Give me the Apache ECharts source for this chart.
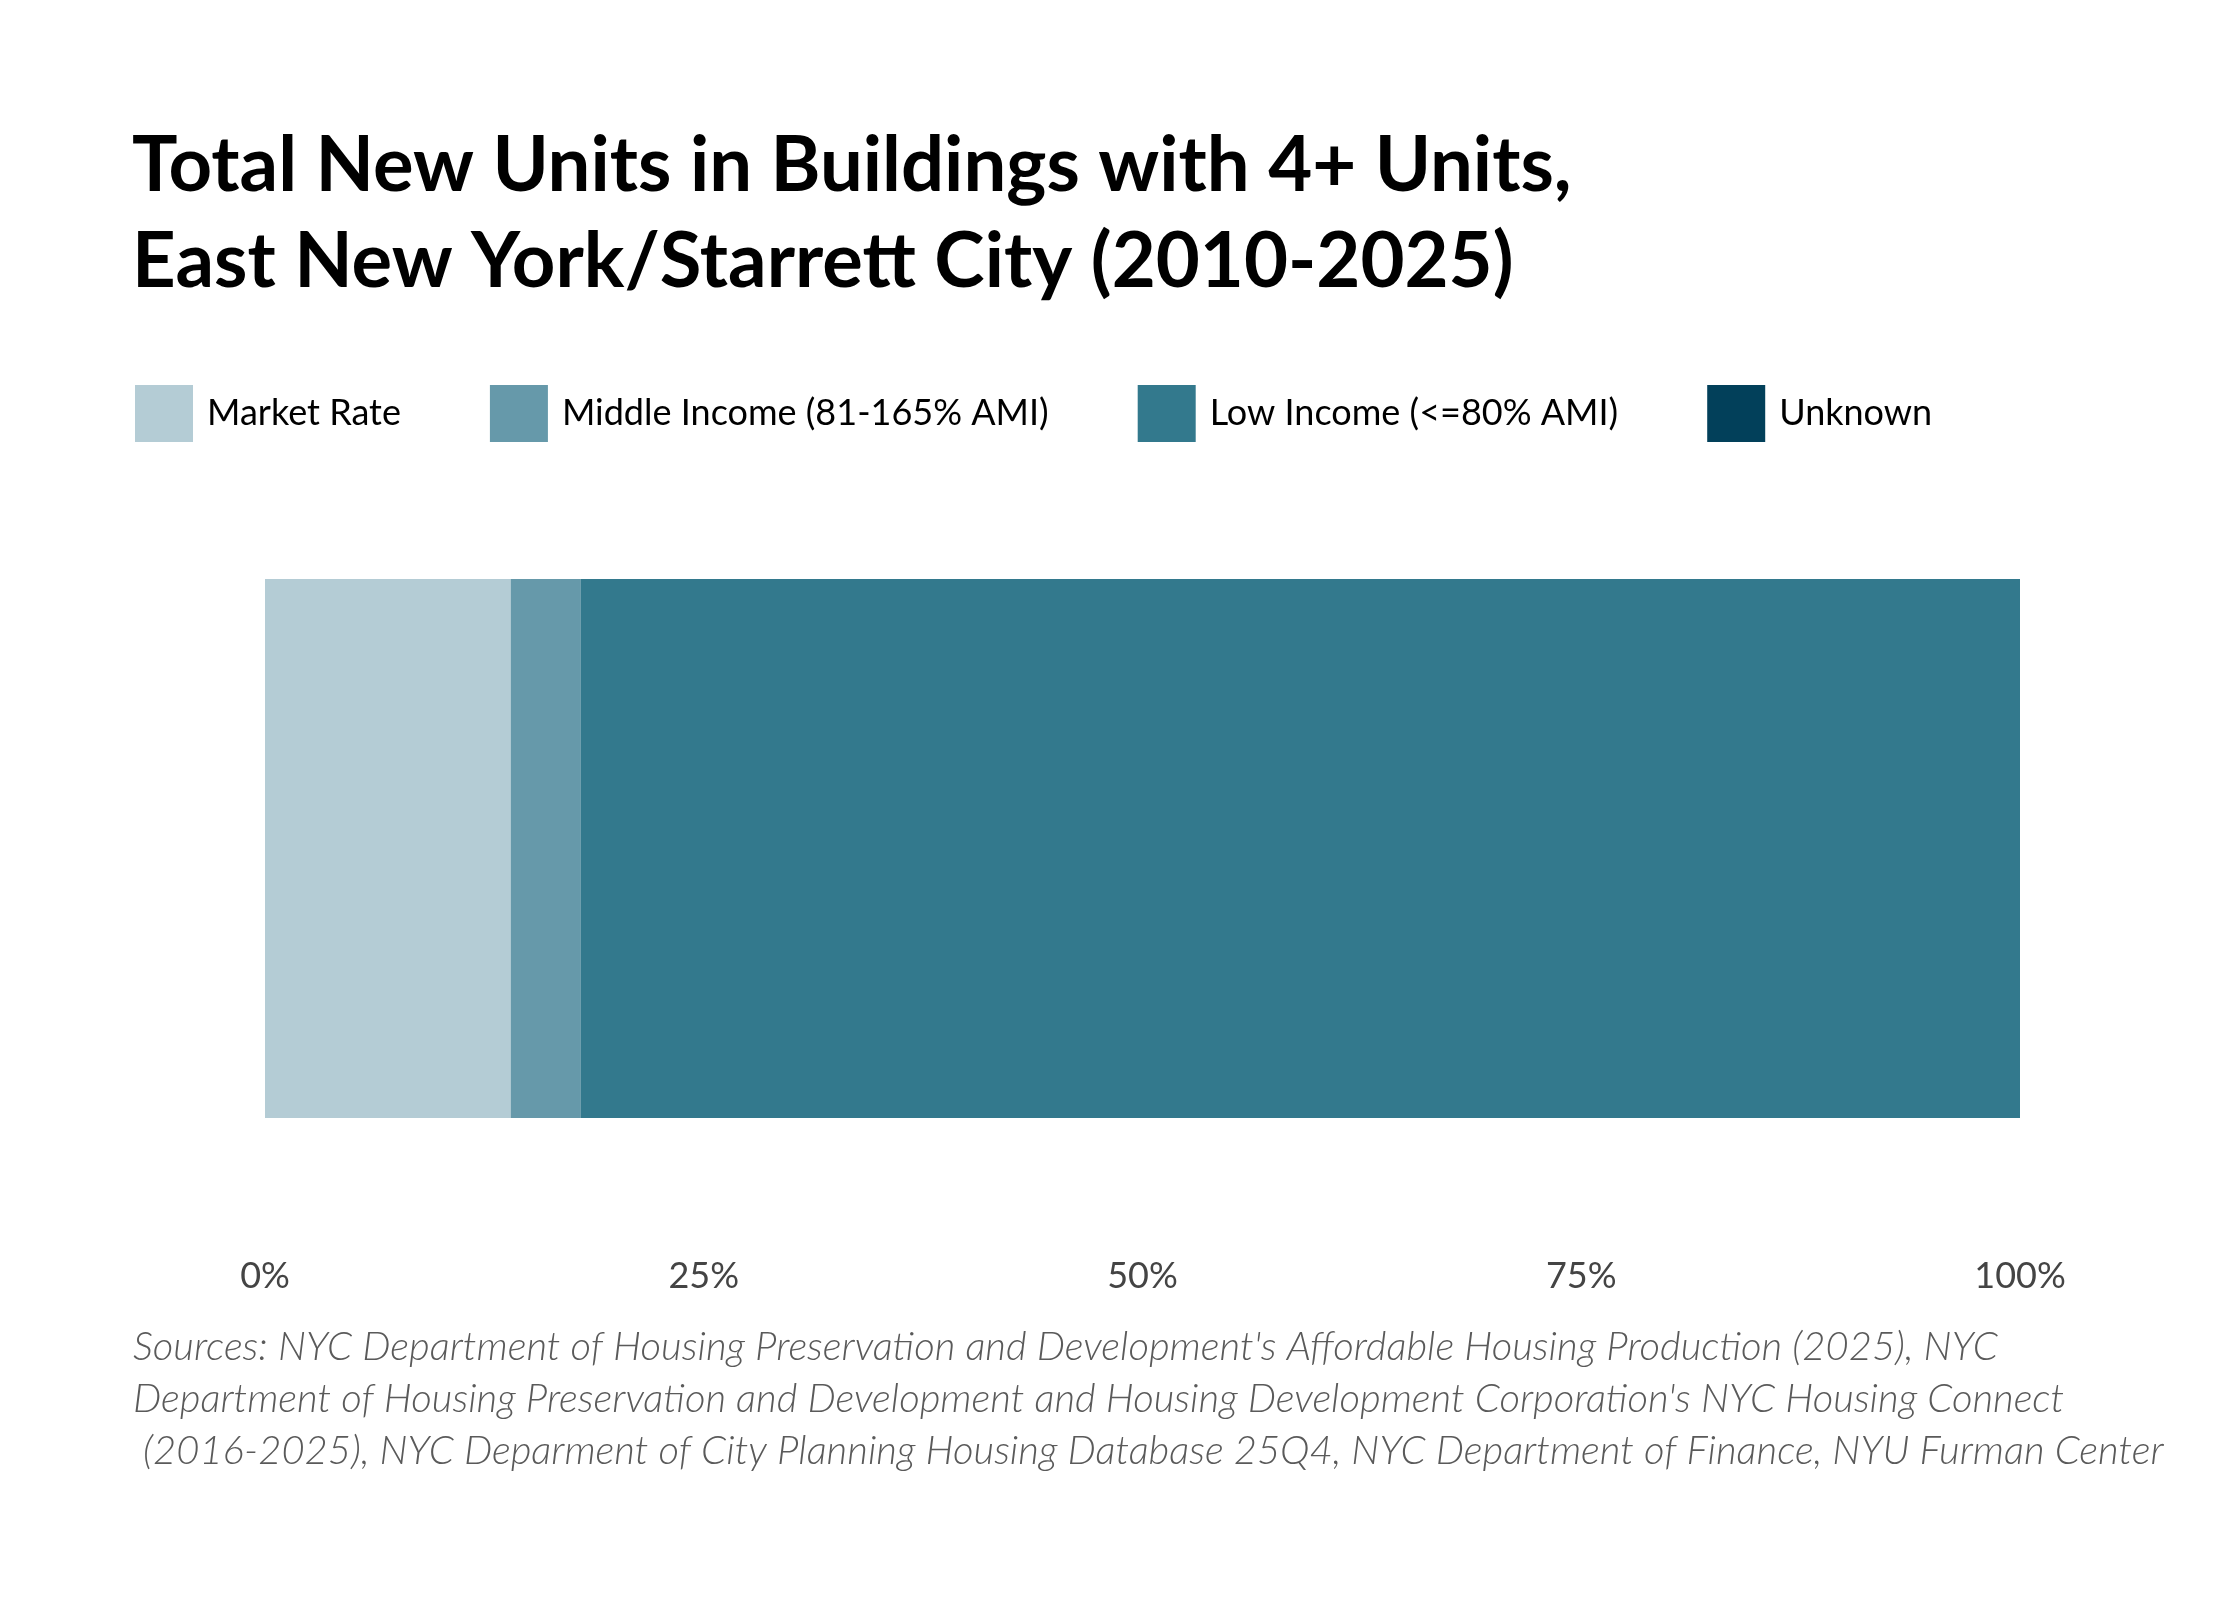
<!DOCTYPE html>
<html>
<head>
<meta charset="utf-8">
<script src="https://cdn.jsdelivr.net/npm/echarts@6/dist/echarts.min.js"></script>
<style>
  html, body { margin: 0; padding: 0; background: #fff; }
  #chart { width: 2240px; height: 1600px; }
</style>
</head>
<body>
<div id="chart"></div>
<script>
const categories = ['East New York/Starrett City'];
const seriesNames = ['Market Rate', 'Middle Income (81-165% AMI)', 'Low Income (<=80% AMI)', 'Unknown'];
const seriesColors = ['#b4ccd5', '#6699aa', '#33798d', '#02405a'];
const shares = [
    [14.0],
    [4.0],
    [82.0],
    [0]
];
const xTicks = [0, 25, 50, 75, 100];

const sourcesText = [
    "Sources: NYC Department of Housing Preservation and Development's Affordable Housing Production (2025), NYC",
    "Department of Housing Preservation and Development and Housing Development Corporation's NYC Housing Connect",
    " (2016-2025), NYC Deparment of City Planning Housing Database 25Q4, NYC Department of Finance, NYU Furman Center"
].join('\n');

const chart = echarts.init(document.getElementById('chart'), null, { renderer: 'canvas' });

const option = {
    backgroundColor: '#ffffff',
    animation: false,
    title: [{
        text: 'Total New Units in Buildings with 4+ Units,\nEast New York/Starrett City (2010-2025)',
        left: 127,
        top: 113,
        textStyle: {
            fontFamily: 'Lato',
            fontWeight: 'bold',
            fontSize: 76,
            lineHeight: 96,
            color: '#000'
        }
    }, {
        text: sourcesText,
        left: 128,
        top: 1316,
        textStyle: {
            fontFamily: 'Lato',
            fontStyle: 'italic',
            fontWeight: 300,
            fontSize: 40,
            lineHeight: 52,
            color: '#5a5a5a'
        }
    }],
    legend: {
        data: seriesNames,
        left: 130,
        top: 380,
        icon: 'rect',
        itemWidth: 58,
        itemHeight: 57,
        itemGap: 89,
        textStyle: {
            fontFamily: 'Lato',
            fontSize: 36,
            color: '#000',
            padding: [0, 0, 0, 9]
        }
    },
    grid: {
        left: 265,
        right: 220,
        top: 579,
        height: 539,
        containLabel: false
    },
    xAxis: {
        type: 'value',
        min: 0,
        max: 100,
        interval: 25,
        axisLine: { show: false },
        axisTick: { show: false },
        splitLine: { show: false },
        axisLabel: {
            margin: 140,
            fontFamily: 'Lato',
            fontSize: 36,
            color: '#444',
            formatter: function (v) {
                return xTicks.indexOf(v) >= 0 ? v + '%' : '';
            }
        }
    },
    yAxis: {
        type: 'category',
        data: categories,
        show: false
    },
    series: seriesNames.map(function (name, i) {
        return {
            name: name,
            type: 'bar',
            stack: 'total',
            barWidth: '100%',
            itemStyle: { color: seriesColors[i] },
            data: shares[i]
        };
    })
};

chart.setOption(option);
</script>
</body>
</html>
